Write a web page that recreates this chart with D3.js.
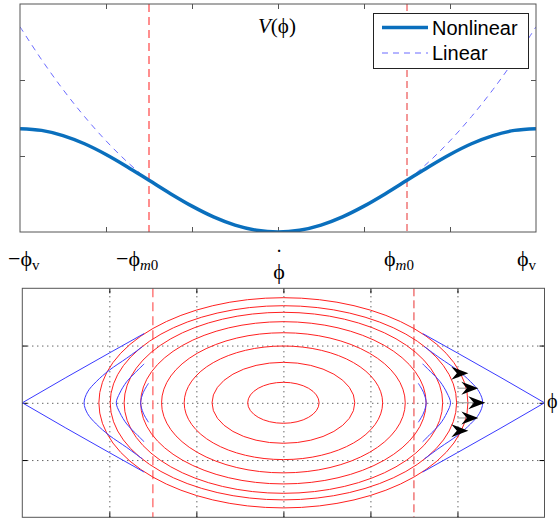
<!DOCTYPE html>
<html lang="en">
<head>
<meta charset="UTF-8">
<title>Potential and phase portrait</title>
<script src="https://d3js.org/d3.v7.min.js"></script>
<style>
    body { margin: 0; background: #fff; }
    svg { display: block; }
    .frame { fill: none; stroke: #555; stroke-width: 1; }
    .lab { font-family: "Liberation Serif", "Times New Roman", serif; fill: #000; }
    .leg { font-family: "Liberation Sans", Arial, sans-serif; font-size: 20px; fill: #000; }
</style>
</head>
<body>
<div class="container"></div>
<script>
// ---- data ----
// top panel: potential V(phi), phi in units where phi_v = 3
const phiGrid = [-3, -2.75, -2.5, -2.25, -2, -1.75, -1.5, -1.25, -1, -0.75, -0.5, -0.25, 0,
                 0.25, 0.5, 0.75, 1, 1.25, 1.5, 1.75, 2, 2.25, 2.5, 2.75, 3];
const vNonlinear = [1.36, 1.337, 1.269, 1.161, 1.02, 0.856, 0.68, 0.504, 0.34, 0.199, 0.091, 0.023, 0,
                    0.023, 0.091, 0.199, 0.34, 0.504, 0.68, 0.856, 1.02, 1.161, 1.269, 1.337, 1.36];
const vLinear = [2.70, 2.269, 1.875, 1.519, 1.20, 0.919, 0.68, 0.504, 0.34, 0.199, 0.091, 0.023, 0,
                 0.023, 0.091, 0.199, 0.34, 0.504, 0.68, 0.919, 1.20, 1.519, 1.875, 2.269, 2.70];
const phiM0 = 1.5;
const phiV = 3;

// bottom panel: red closed orbits (half width in phi, half height in phi-dot)
const orbitHalfWidth = [0.41, 0.82, 1.14, 1.40, 1.64, 1.83, 1.99, 2.12];
const orbitHalfHeight = [0.358, 0.707, 0.992, 1.224, 1.417, 1.581, 1.696, 1.836];

// blue trajectories, left upper arm as [phi, phiDot] (picture is mirror symmetric)
const separatrix = [[-3, 0], [-2.5, 0.44], [-2, 0.87], [-1.6, 1.21]];
const blueOrbitA = [[-2.29, 0], [-2.25, 0.19], [-2.15, 0.37], [-2.0, 0.57], [-1.8, 0.78], [-1.62, 0.98]];
const blueOrbitB = [[-1.92, 0], [-1.88, 0.17], [-1.8, 0.37], [-1.7, 0.53], [-1.6, 0.68]];
const blueOrbitC = [[-1.64, 0], [-1.61, 0.18], [-1.55, 0.34]];

// arrows (tip positions) and where their shafts start
const arrowPhi = [2.125, 2.24, 2.32, 2.24, 2.125];
const arrowDot = [0.515, 0.255, 0, -0.265, -0.49];
const shaftStart = 2.0;

// tick label pieces
const tickBase = ["−ϕ", "−ϕ", "ϕ", "ϕ"];
const tickSub = ["v", "m0", "m0", "v"];
const tickStartX = [8, 116, 384, 517];

// ---- layout ----
const svg = d3.select(".container").append("svg")
    .attr("width", 558).attr("height", 520);

const xTop = d3.scaleLinear().domain([-3, 3]).range([20, 536]);
const yTop = d3.scaleLinear().domain([0, 3]).range([232, 4]);
const xBot = d3.scaleLinear().domain([-3, 3]).range([22.3, 544.5]);
const yBot = d3.scaleLinear().domain([-2, 2]).range([517.3, 288.3]);

const defs = svg.append("defs");
defs.append("clipPath").attr("id", "clipTop").append("rect")
    .attr("x", 20).attr("y", 4).attr("width", 516).attr("height", 228);
defs.append("clipPath").attr("id", "clipBot").append("rect")
    .attr("x", 22.3).attr("y", 288.3).attr("width", 522.2).attr("height", 229);

// ================= top panel =================
const topG = svg.append("g");

// ticks (inward) on all four sides
const tk = 5;
topG.append("g").attr("transform", "translate(0,232)")
    .call(d3.axisBottom(xTop).tickValues([-2, -1, 0, 1, 2]).tickSize(-tk).tickFormat(""));
topG.append("g").attr("transform", "translate(0,4)")
    .call(d3.axisTop(xTop).tickValues([-2, -1, 0, 1, 2]).tickSize(-tk).tickFormat(""));
topG.append("g").attr("transform", "translate(20,0)")
    .call(d3.axisLeft(yTop).tickValues([1, 2]).tickSize(-tk).tickFormat(""));
topG.append("g").attr("transform", "translate(536,0)")
    .call(d3.axisRight(yTop).tickValues([1, 2]).tickSize(-tk).tickFormat(""));
topG.selectAll(".domain").remove();
topG.selectAll(".tick line").attr("stroke", "#555");

const topPlot = topG.append("g").attr("clip-path", "url(#clipTop)");

// red dashed phi_m0 lines
topPlot.append("line")
    .attr("x1", xTop(-phiM0)).attr("x2", xTop(-phiM0)).attr("y1", 4).attr("y2", 232)
    .attr("stroke", "#ff6a6a").attr("stroke-width", 1.5).attr("stroke-dasharray", "8,5");
topPlot.append("line")
    .attr("x1", xTop(phiM0)).attr("x2", xTop(phiM0)).attr("y1", 4).attr("y2", 232)
    .attr("stroke", "#e83030").attr("stroke-width", 1).attr("stroke-dasharray", "7,4");

const lineTop = d3.line().curve(d3.curveCatmullRom)
    .x((d, i) => xTop(phiGrid[i])).y(d => yTop(d));

topPlot.append("path").datum(vLinear)
    .attr("d", lineTop).attr("fill", "none")
    .attr("stroke", "#6b6bff").attr("stroke-width", 1).attr("stroke-dasharray", "6,5");
topPlot.append("path").datum(vNonlinear)
    .attr("d", lineTop).attr("fill", "none")
    .attr("stroke", "#0a6fbd").attr("stroke-width", 3.5);

topG.append("rect").attr("class", "frame")
    .attr("x", 20).attr("y", 4).attr("width", 516).attr("height", 228);

// V(phi) label
const vt = topG.append("text").attr("class", "lab").attr("x", 258).attr("y", 33)
    .attr("font-size", 21);
vt.append("tspan").attr("font-style", "italic").text("V");
vt.append("tspan").text("(ϕ)");

// legend
const leg = topG.append("g");
leg.append("rect").attr("x", 373.5).attr("y", 13.5).attr("width", 155).attr("height", 55)
    .attr("fill", "#fff").attr("stroke", "#222").attr("stroke-width", 1);
leg.append("line").attr("x1", 382).attr("x2", 428).attr("y1", 27.5).attr("y2", 27.5)
    .attr("stroke", "#0a6fbd").attr("stroke-width", 3.5);
leg.append("line").attr("x1", 382).attr("x2", 428).attr("y1", 53).attr("y2", 53)
    .attr("stroke", "#6b6bff").attr("stroke-width", 1).attr("stroke-dasharray", "6,5");
leg.append("text").attr("class", "leg").attr("x", 432).attr("y", 34.5).text("Nonlinear");
leg.append("text").attr("class", "leg").attr("x", 432).attr("y", 60).text("Linear");

// ================= tick labels between panels =================
const labG = svg.append("g");
tickBase.forEach((b, i) => {
    const t = labG.append("text").attr("class", "lab").attr("x", tickStartX[i]).attr("y", 266)
        .attr("font-size", 22);
    t.append("tspan").text(b);
    const s = tickSub[i];
    if (s === "m0") {
        t.append("tspan").attr("font-size", 15).attr("dy", 4).attr("font-style", "italic").text("m");
        t.append("tspan").attr("font-size", 15).text("0");
    } else {
        t.append("tspan").attr("font-size", 15).attr("dy", 4).text(s);
    }
});
// phi-dot label: a dot above the phi
labG.append("text").attr("class", "lab").attr("text-anchor", "middle").attr("font-size", 14)
    .attr("x", xTop(0) + 1).attr("y", 256).attr("font-weight", "bold").text("·");
labG.append("text").attr("class", "lab").attr("text-anchor", "middle").attr("font-size", 22)
    .attr("x", xTop(0) + 1).attr("y", 279).text("ϕ");

// ================= bottom panel =================
const botG = svg.append("g");

// dotted grid
const gh = 517.3 - 288.3, gw = 544.5 - 22.3;
botG.append("g").attr("class", "grid").attr("transform", "translate(0,517.3)")
    .call(d3.axisBottom(xBot).tickValues([-2, -1, 0, 1, 2]).tickSize(-gh).tickFormat(""));
botG.append("g").attr("class", "grid").attr("transform", "translate(22.3,0)")
    .call(d3.axisLeft(yBot).tickValues([-1, 0, 1]).tickSize(-gw).tickFormat(""));
botG.selectAll(".grid .domain").remove();
botG.selectAll(".grid .tick line").attr("stroke", "#222").attr("stroke-dasharray", "1,4");

// small solid ticks on the border
botG.append("g").attr("transform", "translate(0,517.3)")
    .call(d3.axisBottom(xBot).tickValues([-2, -1, 0, 1, 2]).tickSize(-tk).tickFormat(""));
botG.append("g").attr("transform", "translate(0,288.3)")
    .call(d3.axisTop(xBot).tickValues([-2, -1, 0, 1, 2]).tickSize(-tk).tickFormat(""));
botG.append("g").attr("transform", "translate(22.3,0)")
    .call(d3.axisLeft(yBot).tickValues([-1, 0, 1]).tickSize(-tk).tickFormat(""));
botG.append("g").attr("transform", "translate(544.5,0)")
    .call(d3.axisRight(yBot).tickValues([-1, 0, 1]).tickSize(-tk).tickFormat(""));
botG.selectAll(".domain").remove();

const botPlot = botG.append("g").attr("clip-path", "url(#clipBot)");

// red dashed phi_m0 lines
botPlot.append("line")
    .attr("x1", xBot(-phiM0)).attr("x2", xBot(-phiM0)).attr("y1", 288.3).attr("y2", 517.3)
    .attr("stroke", "#ff7a7a").attr("stroke-width", 1.5).attr("stroke-dasharray", "9,5");
botPlot.append("line")
    .attr("x1", xBot(phiM0)).attr("x2", xBot(phiM0)).attr("y1", 288.3).attr("y2", 517.3)
    .attr("stroke", "#e83030").attr("stroke-width", 1).attr("stroke-dasharray", "8,4");

// red orbits
botPlot.selectAll("ellipse.orbit")
    .data(orbitHalfWidth)
    .join("ellipse")
    .attr("class", "orbit")
    .attr("cx", xBot(0)).attr("cy", yBot(0))
    .attr("rx", d => xBot(d) - xBot(0))
    .attr("ry", (d, i) => yBot(0) - yBot(orbitHalfHeight[i]))
    .attr("fill", "none").attr("stroke", "#ff2020").attr("stroke-width", 1);

// blue trajectories (left and right copies)
const blueStroke = p => p.attr("fill", "none").attr("stroke", "#3a3aff").attr("stroke-width", 1);
[1, -1].forEach(sx => {
    // separatrix: two straight-ish arms meeting at the corner
    [1, -1].forEach(sy => {
        const pts = separatrix.map(p => [xBot(sx * p[0]), yBot(sy * p[1])]);
        botPlot.append("path").attr("d", d3.line().curve(d3.curveMonotoneX)(pts.sort((a, b) => a[0] - b[0])))
            .call(blueStroke);
    });
    // inner orbits: one smooth path through the vertex
    [blueOrbitA, blueOrbitB, blueOrbitC].forEach(arm => {
        const lower = arm.slice(1).reverse().map(p => [xBot(sx * p[0]), yBot(-p[1])]);
        const upper = arm.map(p => [xBot(sx * p[0]), yBot(p[1])]);
        botPlot.append("path").attr("d", d3.line().curve(d3.curveCatmullRom)(lower.concat(upper)))
            .call(blueStroke);
    });
});

// quiver shafts and arrowheads
botPlot.selectAll("line.shaft")
    .data(arrowPhi)
    .join("line")
    .attr("class", "shaft")
    .attr("x1", xBot(shaftStart)).attr("x2", d => xBot(d) - 8)
    .attr("y1", (d, i) => yBot(arrowDot[i])).attr("y2", (d, i) => yBot(arrowDot[i]))
    .attr("stroke", "#999").attr("stroke-width", 1);
botPlot.selectAll("path.head")
    .data(arrowPhi)
    .join("path")
    .attr("class", "head")
    .attr("transform", (d, i) => `translate(${xBot(d)},${yBot(arrowDot[i])})`)
    .attr("d", "M0,0 L-17,-6.5 L-11.5,0 L-17,6.5 Z")
    .attr("fill", "#000");

botG.append("rect").attr("class", "frame")
    .attr("x", 22.3).attr("y", 288.3).attr("width", gw).attr("height", gh);

// phi label at the right edge
svg.append("text").attr("class", "lab").attr("x", 547).attr("y", 408)
    .attr("font-size", 20).text("ϕ");
</script>
</body>
</html>
